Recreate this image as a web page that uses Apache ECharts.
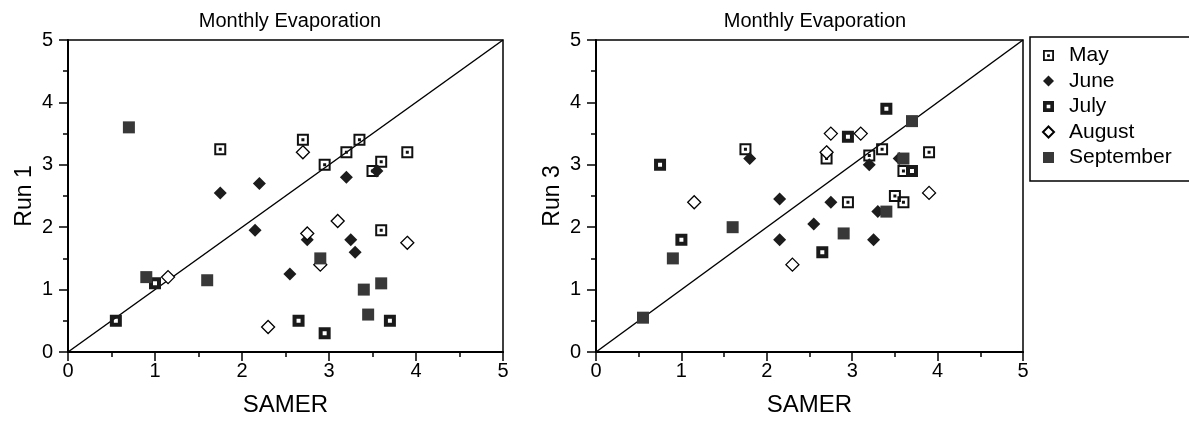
<!DOCTYPE html>
<html>
<head>
<meta charset="utf-8">
<script src="https://cdn.jsdelivr.net/npm/echarts@6/dist/echarts.min.js"></script>
<style>
html, body { margin: 0; padding: 0; background: #fff; }
#chart { width: 1189px; height: 425px; }
</style>
</head>
<body>
<div id="chart"></div>
<script>
var months = ['May', 'June', 'July', 'August', 'September'];
var oneToOne = [[0, 0], [5, 5]];

// Run 1 vs SAMER
var run1May = [[1.75, 3.25], [2.7, 3.4], [2.95, 3.0], [3.2, 3.2], [3.35, 3.4], [3.5, 2.9], [3.6, 3.05], [3.9, 3.2], [3.6, 1.95]];
var run1June = [[1.75, 2.55], [2.2, 2.7], [2.15, 1.95], [2.75, 1.8], [3.25, 1.8], [3.3, 1.6], [2.55, 1.25], [3.2, 2.8], [3.55, 2.9]];
var run1July = [[0.55, 0.5], [1.0, 1.1], [2.65, 0.5], [2.95, 0.3], [3.7, 0.5]];
var run1August = [[2.7, 3.2], [1.15, 1.2], [3.1, 2.1], [2.75, 1.9], [3.9, 1.75], [2.9, 1.4], [2.3, 0.4]];
var run1September = [[0.7, 3.6], [0.9, 1.2], [1.6, 1.15], [2.9, 1.5], [3.4, 1.0], [3.6, 1.1], [3.45, 0.6]];

// Run 3 vs SAMER
var run3May = [[1.75, 3.25], [2.7, 3.1], [3.35, 3.25], [3.2, 3.15], [3.9, 3.2], [3.6, 2.9], [3.5, 2.5], [3.6, 2.4], [2.95, 2.4]];
var run3June = [[1.8, 3.1], [3.2, 3.0], [3.55, 3.1], [2.15, 2.45], [2.15, 1.8], [2.75, 2.4], [2.55, 2.05], [3.25, 1.8], [3.3, 2.25]];
var run3July = [[0.75, 3.0], [3.4, 3.9], [2.95, 3.45], [3.7, 2.9], [1.0, 1.8], [2.65, 1.6]];
var run3August = [[2.75, 3.5], [3.1, 3.5], [2.7, 3.2], [1.15, 2.4], [2.3, 1.4], [3.9, 2.55]];
var run3September = [[3.7, 3.7], [3.6, 3.1], [1.6, 2.0], [0.9, 1.5], [0.55, 0.55], [3.4, 2.25], [2.9, 1.9]];

var FONT = 'Liberation Sans, Arial, sans-serif';

// marker looks, one per month
var markStyle = {
    'May': { symbol: 'path://M0 0H12V12H0Z M2 2V10H10V2Z M4.5 4.5H7.5V7.5H4.5Z', symbolSize: 12, itemStyle: { color: '#111', opacity: 1 } },
    'June': { symbol: 'diamond', symbolSize: 13, itemStyle: { color: '#1c1c1c', opacity: 1 } },
    'July': { symbol: 'path://M0 0H12V12H0Z M4 4V8H8V4Z', symbolSize: 12, itemStyle: { color: '#1a1a1a', opacity: 1 } },
    'August': { symbol: 'diamond', symbolSize: 13, itemStyle: { color: '#fff', borderColor: '#000', borderWidth: 1.3, opacity: 1 } },
    'September': { symbol: 'rect', symbolSize: 12, itemStyle: { color: '#383838', opacity: 1 } }
};

function xAxisFor(idx) {
    return {
        gridIndex: idx,
        type: 'value',
        min: 0, max: 5, interval: 1,
        name: 'SAMER',
        nameLocation: 'middle',
        nameGap: 41,
        nameTextStyle: { fontSize: 24, color: '#000', fontFamily: FONT },
        axisLine: { show: true, onZero: false, lineStyle: { color: '#000', width: 2 } },
        axisTick: { show: true, length: 9, lineStyle: { color: '#000', width: 1.5 } },
        minorTick: { show: true, splitNumber: 2, length: 5, lineStyle: { color: '#000', width: 1.5 } },
        splitLine: { show: false },
        axisLabel: { fontSize: 20, color: '#000', fontFamily: FONT, margin: 9 }
    };
}

function yAxisFor(idx, name) {
    return {
        gridIndex: idx,
        type: 'value',
        min: 0, max: 5, interval: 1,
        name: name,
        nameLocation: 'middle',
        nameGap: 32,
        nameTextStyle: { fontSize: 23, color: '#000', fontFamily: FONT },
        axisLine: { show: true, onZero: false, lineStyle: { color: '#000', width: 2 } },
        axisTick: { show: true, length: 9, lineStyle: { color: '#000', width: 1.5 } },
        minorTick: { show: true, splitNumber: 2, length: 5, lineStyle: { color: '#000', width: 1.5 } },
        splitLine: { show: false },
        axisLabel: { fontSize: 20, color: '#000', fontFamily: FONT, margin: 15 }
    };
}

function scatter(name, data, idx) {
    var s = markStyle[name];
    return {
        name: name,
        type: 'scatter',
        xAxisIndex: idx,
        yAxisIndex: idx,
        data: data,
        symbol: s.symbol,
        symbolSize: s.symbolSize,
        itemStyle: s.itemStyle,
        z: 3
    };
}

function diag(idx) {
    return {
        name: 'diag',
        type: 'line',
        xAxisIndex: idx,
        yAxisIndex: idx,
        data: oneToOne,
        showSymbol: false,
        symbol: 'none',
        silent: true,
        lineStyle: { color: '#000', width: 1.5 },
        z: 2
    };
}

var chart = echarts.init(document.getElementById('chart'));

var option = {
    backgroundColor: '#fff',
    animation: false,
    textStyle: { fontFamily: FONT },
    title: [
        { text: 'Monthly Evaporation', left: 285, top: 6, textAlign: 'center',
          textStyle: { fontSize: 20, fontWeight: 'normal', color: '#000', fontFamily: FONT } },
        { text: 'Monthly Evaporation', left: 810, top: 6, textAlign: 'center',
          textStyle: { fontSize: 20, fontWeight: 'normal', color: '#000', fontFamily: FONT } }
    ],
    legend: {
        data: months,
        orient: 'vertical',
        left: 1030,
        top: 37,
        padding: [8, 30, 13, 12],
        itemGap: 4.5,
        itemWidth: 11,
        itemHeight: 11,
        borderColor: '#000',
        borderWidth: 1.5,
        textStyle: { fontSize: 21, color: '#000', fontFamily: FONT, padding: [0, 0, 0, 10] }
    },
    grid: [
        { left: 68, right: 686, top: 40, bottom: 73, show: true, borderColor: '#000', borderWidth: 1.5, outerBoundsMode: 'none' },
        { left: 596, right: 166, top: 40, bottom: 73, show: true, borderColor: '#000', borderWidth: 1.5, outerBoundsMode: 'none' }
    ],
    xAxis: [xAxisFor(0), xAxisFor(1)],
    yAxis: [yAxisFor(0, 'Run 1'), yAxisFor(1, 'Run 3')],
    series: [
        diag(0),
        scatter('May', run1May, 0),
        scatter('June', run1June, 0),
        scatter('July', run1July, 0),
        scatter('August', run1August, 0),
        scatter('September', run1September, 0),
        diag(1),
        scatter('May', run3May, 1),
        scatter('June', run3June, 1),
        scatter('July', run3July, 1),
        scatter('August', run3August, 1),
        scatter('September', run3September, 1)
    ]
};

if (option && typeof option === 'object') {
    chart.setOption(option, true);
}
</script>
</body>
</html>
